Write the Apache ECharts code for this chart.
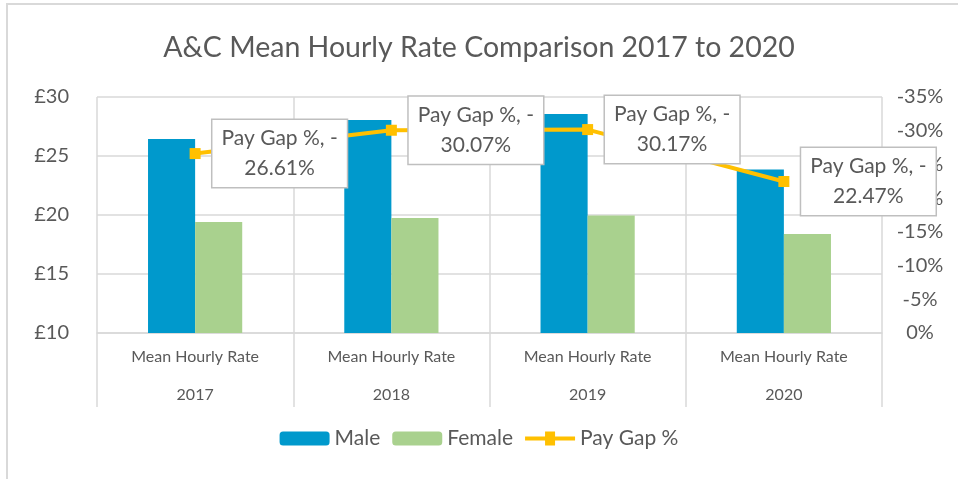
<!DOCTYPE html>
<html>
<head>
<meta charset="utf-8">
<script src="https://cdn.jsdelivr.net/npm/echarts@6/dist/echarts.min.js"></script>
<style>
  html, body { margin: 0; padding: 0; background: #fff; }
  #chart { width: 958px; height: 479px; }
</style>
</head>
<body>
<div id="chart"></div>
<script>
// data
const years = ['2017', '2018', '2019', '2020']
const subLabel = 'Mean Hourly Rate'
const male = [26.45, 28.05, 28.55, 23.85]
const female = [19.4, 19.75, 19.95, 18.4]
const payGap = [-26.61, -30.07, -30.17, -22.47]
const leftTicks = { min: 10, max: 30, interval: 5 }
const rightTicks = { min: -35, max: 0, interval: 5 }

const grey = '#595959'
const gridLine = '#D9D9D9'
const font = 'Lato, "Open Sans", sans-serif'

let myChart = echarts.init(document.getElementById('chart'))

const option = {
  animation: false,
  textStyle: { fontFamily: font, color: grey },
  title: {
    text: 'A&C Mean Hourly Rate Comparison 2017 to 2020',
    left: 'center',
    top: 28,
    textStyle: { fontSize: 28.5, fontWeight: 'normal', color: grey, fontFamily: font }
  },
  graphic: [
    {
      type: 'rect',
      shape: { x: 7, y: 4, width: 1000, height: 1000 },
      style: { fill: 'none', stroke: gridLine, lineWidth: 2 },
      silent: true
    }
  ],
  legend: {
    bottom: 25,
    left: 'center',
    itemWidth: 50,
    itemHeight: 14,
    itemGap: 12,
    textStyle: { fontSize: 21, color: grey, fontFamily: font },
    data: [
      'Male',
      'Female',
      {
        name: 'Pay Gap %',
        // line with a square marker, drawn like the Excel key
        icon: 'path://M0,5L20,5L20,0L30,0L30,5L50,5L50,9L30,9L30,14L20,14L20,9L0,9Z'
      }
    ]
  },
  grid: {
    left: 97,
    right: 76,
    top: 97,
    bottom: 146
  },
  xAxis: {
    type: 'category',
    data: years,
    axisLine: { lineStyle: { color: gridLine, width: 1.5 } },
    axisTick: { show: true, length: 74, lineStyle: { color: gridLine, width: 1.5 } },
    splitLine: { show: true, lineStyle: { color: gridLine, width: 1.5 } },
    axisLabel: {
      margin: 5,
      formatter: function (v) {
        return '{a|' + subLabel + '}\n{b|' + v + '}'
      },
      rich: {
        a: { fontSize: 16, lineHeight: 38, color: grey, fontFamily: font },
        b: { fontSize: 16, lineHeight: 38, color: grey, fontFamily: font }
      }
    }
  },
  yAxis: [
    {
      type: 'value',
      min: leftTicks.min,
      max: leftTicks.max,
      interval: leftTicks.interval,
      axisLine: { show: false },
      axisTick: { show: false },
      splitLine: { lineStyle: { color: gridLine, width: 1.5 } },
      axisLabel: {
        margin: 28,
        fontSize: 20,
        color: grey,
        fontFamily: font,
        formatter: '£{value}'
      }
    },
    {
      type: 'value',
      inverse: true,
      min: rightTicks.min,
      max: rightTicks.max,
      interval: rightTicks.interval,
      axisLine: { show: false },
      axisTick: { show: false },
      splitLine: { show: false },
      axisLabel: {
        margin: 38,
        align: 'center',
        fontSize: 20,
        color: grey,
        fontFamily: font,
        formatter: '{value}%'
      }
    }
  ],
  series: [
    {
      name: 'Male',
      type: 'bar',
      barGap: 0,
      barCategoryGap: '52%',
      itemStyle: { color: '#0099CC' },
      data: male
    },
    {
      name: 'Female',
      type: 'bar',
      itemStyle: { color: '#A9D18E' },
      data: female
    },
    {
      name: 'Pay Gap %',
      type: 'line',
      yAxisIndex: 1,
      symbol: 'rect',
      symbolSize: 11,
      z: 5,
      lineStyle: { color: '#FFC000', width: 4 },
      itemStyle: { color: '#FFC000' },
      label: {
        show: true,
        position: 'right',
        distance: 14,
        align: 'center',
        fontSize: 21,
        lineHeight: 30,
        color: grey,
        fontFamily: font,
        backgroundColor: '#fff',
        borderColor: '#BFBFBF',
        borderWidth: 1.5,
        padding: [5, 9, 2, 9],
        offset: [65, 0],
        formatter: function (p) {
          return 'Pay Gap %, -\n' + Math.abs(p.value).toFixed(2) + '%'
        }
      },
      data: payGap
    }
  ]
}

myChart.setOption(option)
</script>
</body>
</html>
